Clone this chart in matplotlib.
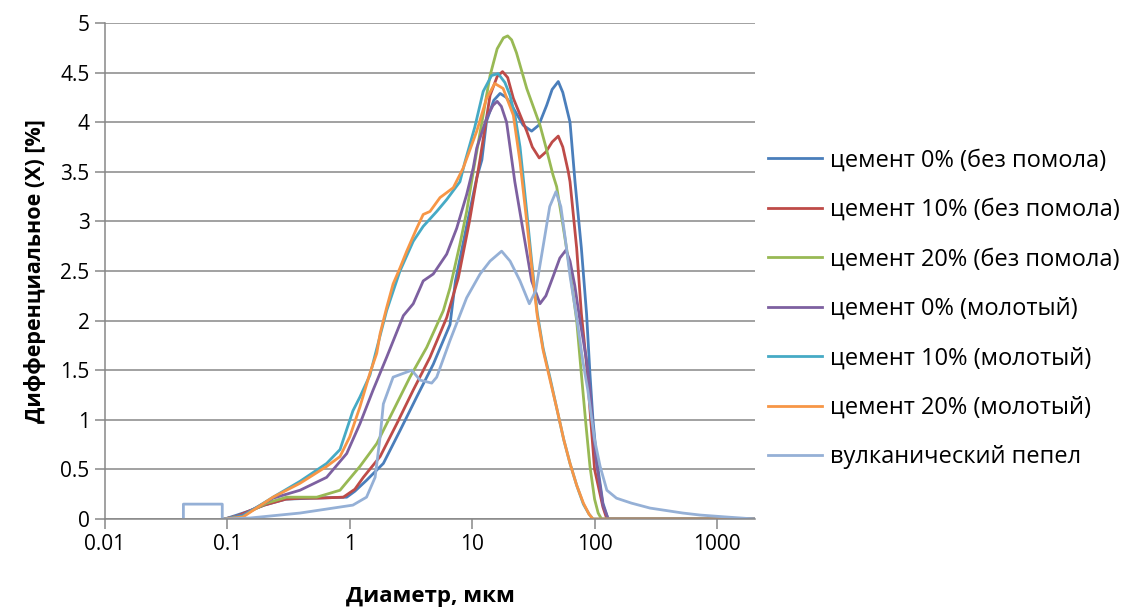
import matplotlib
matplotlib.use('Agg')
import matplotlib.pyplot as plt

plt.rcParams['font.family'] = ['Open Sans', 'DejaVu Sans']

# diameters (um) and differential values (%)
cem0_d = [0.095, 0.12, 0.15, 0.2, 0.3, 0.5, 0.944, 1.1, 1.37, 1.88, 2.57, 3.52, 4.81, 6.59, 7.3, 9.0,
          10.9, 12.0, 13.1, 15.0, 16.9, 19.0, 21.7, 26.1, 30.6, 35.0, 40.6, 45.0, 50.5, 55.0, 63.0,
          69.2, 78.0, 86.0, 91.7, 97.0, 104.0, 117.0, 129.0, 2045.0]
cem0_v = [0.0, 0.04, 0.08, 0.14, 0.2, 0.21, 0.22, 0.28, 0.39, 0.56, 0.89, 1.23, 1.56, 1.96, 2.4, 2.95,
          3.44, 3.62, 4.01, 4.22, 4.29, 4.25, 4.14, 3.97, 3.91, 3.97, 4.17, 4.33, 4.41, 4.3, 4.0,
          3.4, 2.73, 2.07, 1.46, 1.0, 0.6, 0.16, 0.0, 0.0]

cem10_d = [0.095, 0.12, 0.15, 0.2, 0.3, 0.4, 0.54, 0.885, 1.1, 1.29, 1.77, 2.42, 3.3, 4.52, 6.19, 7.7,
           9.5, 11.5, 14.0, 16.0, 17.7, 19.5, 21.7, 27.9, 31.0, 35.3, 40.0, 45.0, 50.5, 55.0, 61.0,
           63.0, 71.4, 78.0, 86.0, 91.7, 100.0, 117.0, 126.0, 2045.0]
cem10_v = [0.0, 0.03, 0.08, 0.14, 0.2, 0.21, 0.21, 0.22, 0.3, 0.42, 0.63, 0.96, 1.3, 1.63, 2.03, 2.43,
           3.0, 3.6, 4.27, 4.46, 4.51, 4.45, 4.24, 3.91, 3.75, 3.64, 3.7, 3.8, 3.86, 3.75, 3.5,
           3.4, 2.73, 2.07, 1.56, 1.1, 0.5, 0.12, 0.0, 0.0]

cem20_d = [0.095, 0.134, 0.209, 0.305, 0.537, 0.832, 1.21, 1.66, 2.26, 3.1, 4.25, 5.81, 6.59, 7.94, 9.01,
           10.2, 12.0, 14.0, 16.0, 18.0, 19.5, 21.0, 23.0, 27.9, 35.8, 40.0, 45.7, 49.0, 55.0, 63.0,
           71.4, 78.0, 85.0, 91.7, 100.0, 107.0, 114.0, 2045.0]
cem20_v = [0.0, 0.04, 0.16, 0.22, 0.22, 0.29, 0.53, 0.76, 1.09, 1.43, 1.73, 2.1, 2.33, 2.77, 3.1,
           3.5, 4.0, 4.47, 4.74, 4.85, 4.87, 4.83, 4.7, 4.34, 3.97, 3.75, 3.47, 3.35, 2.97, 2.5,
           2.0, 1.46, 0.95, 0.53, 0.2, 0.06, 0.0, 0.0]

mol0_d = [0.095, 0.134, 0.236, 0.392, 0.647, 0.944, 1.21, 1.55, 2.0, 2.74, 3.3, 3.98, 4.81, 6.19, 7.47,
          9.01, 10.2, 10.9, 13.1, 14.8, 16.0, 17.3, 19.1, 22.3, 26.1, 30.6, 35.8, 40.0, 46.0, 52.0,
          58.3, 63.0, 69.0, 76.0, 86.0, 91.7, 97.0, 104.0, 117.0, 129.0, 2045.0]
mol0_v = [0.0, 0.04, 0.21, 0.29, 0.42, 0.66, 0.96, 1.3, 1.63, 2.05, 2.17, 2.4, 2.47, 2.67, 2.93,
          3.27, 3.54, 3.74, 4.04, 4.17, 4.21, 4.16, 4.0, 3.4, 2.9, 2.4, 2.17, 2.25, 2.45, 2.63,
          2.71, 2.6, 2.35, 2.0, 1.6, 1.3, 0.9, 0.55, 0.14, 0.0, 0.0]

mol10_d = [0.095, 0.134, 0.236, 0.392, 0.647, 0.832, 1.06, 1.21, 1.46, 1.77, 2.0, 2.57, 3.3, 3.98, 5.13,
           6.19, 7.94, 8.73, 10.5, 12.3, 14.4, 16.3, 18.5, 20.4, 22.5, 24.6, 27.9, 30.6, 34.0, 38.0,
           43.3, 49.0, 56.0, 63.0, 71.4, 81.0, 90.0, 97.0, 2045.0]
mol10_v = [0.0, 0.03, 0.22, 0.38, 0.56, 0.7, 1.09, 1.23, 1.45, 1.85, 2.1, 2.5, 2.8, 2.95, 3.1,
           3.22, 3.4, 3.6, 3.95, 4.31, 4.47, 4.49, 4.4, 4.27, 4.05, 3.75, 3.1, 2.6, 2.08, 1.72,
           1.42, 1.12, 0.8, 0.56, 0.34, 0.15, 0.05, 0.0, 0.0]

mol20_d = [0.095, 0.134, 0.236, 0.392, 0.647, 0.832, 1.0, 1.21, 1.46, 1.66, 1.77, 2.0, 2.26, 2.57, 2.92,
           3.52, 3.98, 4.52, 5.46, 6.19, 7.01, 8.46, 10.9, 13.1, 15.3, 17.9, 21.7, 24.6, 27.9, 30.6,
           34.0, 38.0, 43.3, 49.0, 56.0, 63.0, 71.4, 81.0, 90.0, 97.0, 2045.0]
mol20_v = [0.0, 0.02, 0.22, 0.36, 0.53, 0.63, 0.83, 1.13, 1.47, 1.67, 1.87, 2.13, 2.37, 2.53, 2.7,
           2.93, 3.07, 3.1, 3.24, 3.29, 3.34, 3.54, 3.91, 4.24, 4.39, 4.34, 4.07, 3.6, 3.0, 2.55,
           2.05, 1.7, 1.4, 1.12, 0.8, 0.56, 0.34, 0.16, 0.05, 0.0, 0.0]

ash_d = [0.0437, 0.0437, 0.0908, 0.0908, 0.0986, 0.153, 0.392, 1.06, 1.37, 1.61, 1.77, 1.88, 2.26, 3.21,
         3.75, 4.67, 5.13, 6.59, 9.01, 11.6, 14.0, 17.4, 20.4, 24.6, 29.3, 33.0, 38.0, 43.0, 48.4,
         53.0, 58.0, 63.0, 72.0, 80.0, 88.0, 100.0, 111.0, 126.0, 151.0, 200.0, 284.0, 527.0, 726.0,
         1200.0, 2045.0]
ash_v = [0.0, 0.15, 0.15, 0.0, 0.0, 0.01, 0.06, 0.14, 0.22, 0.42, 0.83, 1.16, 1.43, 1.5,
         1.4, 1.37, 1.43, 1.8, 2.23, 2.47, 2.6, 2.7, 2.6, 2.4, 2.17, 2.3, 2.75, 3.15, 3.3,
         3.15, 2.8, 2.45, 2.0, 1.6, 1.3, 0.8, 0.53, 0.29, 0.21, 0.16, 0.11, 0.06, 0.04,
         0.02, 0.0]

series = [
    ('цемент 0% (без помола)', cem0_d, cem0_v, '#4A7EBB'),
    ('цемент 10% (без помола)', cem10_d, cem10_v, '#BE4B48'),
    ('цемент 20% (без помола)', cem20_d, cem20_v, '#98B954'),
    ('цемент 0% (молотый)', mol0_d, mol0_v, '#7D60A0'),
    ('цемент 10% (молотый)', mol10_d, mol10_v, '#46AAC5'),
    ('цемент 20% (молотый)', mol20_d, mol20_v, '#F79646'),
    ('вулканический пепел', ash_d, ash_v, '#95B0D6'),
]

x_ticks = [0.01, 0.1, 1, 10, 100, 1000]
x_labels = ['0.01', '0.1', '1', '10', '100', '1000']
y_ticks = [0, 0.5, 1, 1.5, 2, 2.5, 3, 3.5, 4, 4.5, 5]
y_labels = ['0', '0.5', '1', '1.5', '2', '2.5', '3', '3.5', '4', '4.5', '5']

fig = plt.figure(figsize=(11.26, 6.10), dpi=100)
ax = fig.add_axes([105 / 1126, 91 / 610, 650 / 1126, 496 / 610])

for label, d, v, color in series:
    ax.plot(d, v, color=color, lw=2.0, label=label, solid_joinstyle='round')

ax.set_xscale('log')
ax.set_xlim(0.01, 2045)
ax.set_ylim(0, 5)
ax.set_xticks(x_ticks)
ax.set_xticklabels(x_labels)
ax.minorticks_off()
ax.set_yticks(y_ticks)
ax.set_yticklabels(y_labels)
ax.grid(axis='y', color='#878787', lw=1.1)
ax.set_axisbelow(True)

for side in ('top', 'right'):
    ax.spines[side].set_visible(False)
for side in ('left', 'bottom'):
    ax.spines[side].set_color('#878787')
    ax.spines[side].set_linewidth(1.1)
ax.tick_params(axis='both', direction='out', length=7, width=1.1, color='#878787',
               labelsize=15, labelcolor='#000000', pad=4)

ax.set_xlabel('Диаметр, мкм', fontsize=16, fontweight='bold', labelpad=22)
ax.set_ylabel('Дифференциальное (X) [%]', fontsize=15.5, fontweight='bold', labelpad=10)

fig.legend(loc='upper left', bbox_to_anchor=(759 / 1126, 1 - 139 / 610), frameon=False,
           fontsize=17, handlelength=2.25, handletextpad=0.34, labelspacing=1.08,
           borderaxespad=0)

fig.savefig('out.png', dpi=100)
